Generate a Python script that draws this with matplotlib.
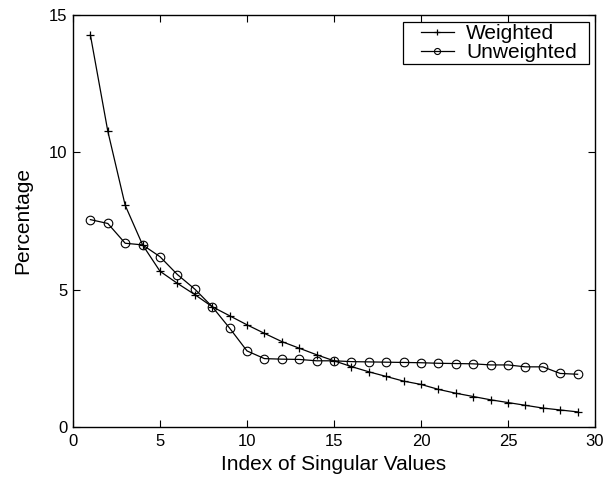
import matplotlib
matplotlib.use("Agg")
import matplotlib.pyplot as plt
from matplotlib.legend_handler import HandlerLine2D

plt.rcParams['font.family'] = ['Liberation Sans', 'DejaVu Sans']

index = list(range(1, 30))
weighted = [14.27, 10.77, 8.07, 6.63, 5.67, 5.23, 4.82, 4.38, 4.05, 3.72,
            3.41, 3.11, 2.87, 2.63, 2.41, 2.20, 2.01, 1.84, 1.67, 1.55,
            1.37, 1.23, 1.11, 0.99, 0.89, 0.79, 0.69, 0.62, 0.55]
unweighted = [7.55, 7.41, 6.69, 6.63, 6.20, 5.55, 5.02, 4.38, 3.60, 2.77,
              2.49, 2.47, 2.46, 2.41, 2.41, 2.38, 2.37, 2.36, 2.35, 2.34,
              2.32, 2.31, 2.30, 2.26, 2.26, 2.19, 2.19, 1.95, 1.92]
xticks = [0, 5, 10, 15, 20, 25, 30]
yticks = [0, 5, 10, 15]

fig = plt.figure(figsize=(6.04, 4.79), dpi=100)
ax = fig.add_axes([73 / 604, 1 - 427 / 479, 522 / 604, 412 / 479])

l1, = ax.plot(index, weighted, color='black', lw=0.9, marker='+', ms=6,
              mew=0.9, label='Weighted')
l2, = ax.plot(index, unweighted, color='black', lw=0.9, marker='o', ms=6.2,
              mfc='none', mew=0.8, label='Unweighted')

ax.set_xlim(0, 30)
ax.set_ylim(0, 15)
ax.set_xticks(xticks)
ax.set_yticks(yticks)
ax.tick_params(direction='in', top=True, right=True, length=5, width=0.8,
               labelsize=12)
ax.tick_params(axis='x', pad=5)
ax.tick_params(axis='y', pad=4)
for s in ax.spines.values():
    s.set_linewidth(1.0)

ax.set_xlabel('Index of Singular Values', fontsize=15, labelpad=4)
ax.set_ylabel('Percentage', fontsize=15, labelpad=12)

# legend box stretched to a fixed width, with the sample lines inset from its left edge
handler = HandlerLine2D(xpad=0.77)
leg = ax.legend(handles=[l1, l2], loc='upper left',
                bbox_to_anchor=(0.632, 0.0, 0.356, 0.983), mode='expand',
                fontsize=15, frameon=True, fancybox=False,
                edgecolor='black', framealpha=1, handlelength=2.35,
                borderpad=0.1, labelspacing=0.0, borderaxespad=0.0,
                handletextpad=0.58, markerscale=0.7,
                handler_map={l1: handler, l2: handler})
leg.get_frame().set_linewidth(0.9)

fig.savefig('out.png', dpi=100)
